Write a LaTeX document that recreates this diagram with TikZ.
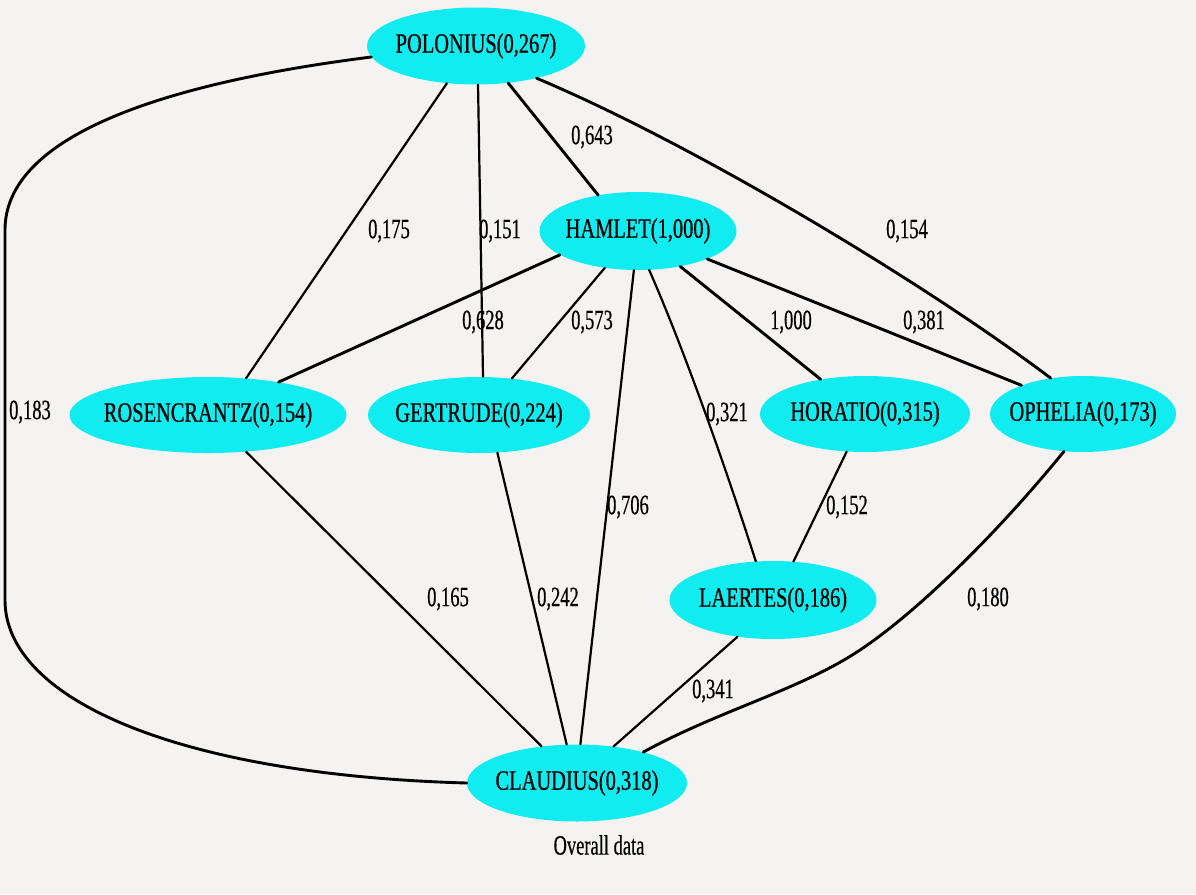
\documentclass[tikz,border=0pt]{standalone}
\usepackage{fontspec}
\setmainfont[FakeStretch=0.73,FakeBold=0.6]{Liberation Serif}
\newfontfamily\lblfont[FakeStretch=0.66,FakeBold=0.5]{Liberation Serif}
\usetikzlibrary{shapes.geometric}
\definecolor{bgcol}{RGB}{245,243,242}
\definecolor{nodecyan}{RGB}{16,236,240}
\begin{document}
\begin{tikzpicture}[x=1pt,y=-1pt,
  person/.style={ellipse, fill=nodecyan, inner sep=0pt, font=\fontsize{28}{30}\selectfont},
  weight/.style={font=\lblfont\fontsize{28}{30}\selectfont, inner sep=0pt},
  edgethick/.style={line width=2.9pt, line cap=round},
  edgethin/.style={line width=2.2pt, line cap=round}]
\fill[bgcol] (0,0) rectangle (1196,894);
\useasboundingbox (0,0) rectangle (1196,894);

% nodes
\node[person, minimum width=218, minimum height=77] (pol) at (476,46) {\makebox[0pt]{POLONIUS(0,267)}};
\node[person, minimum width=197, minimum height=78] (ham) at (638,231) {\makebox[0pt]{HAMLET(1,000)}};
\node[person, minimum width=277, minimum height=76] (ros) at (208,415) {\makebox[0pt]{ROSENCRANTZ(0,154)}};
\node[person, minimum width=222, minimum height=76] (ger) at (479,415) {\makebox[0pt]{GERTRUDE(0,224)}};
\node[person, minimum width=210, minimum height=76] (hor) at (865,414) {\makebox[0pt]{HORATIO(0,315)}};
\node[person, minimum width=186, minimum height=76] (oph) at (1083,414) {\makebox[0pt]{OPHELIA(0,173)}};
\node[person, minimum width=207, minimum height=78] (lae) at (773,600) {\makebox[0pt]{LAERTES(0,186)}};
\node[person, minimum width=220, minimum height=77] (cla) at (577,783) {\makebox[0pt]{CLAUDIUS(0,318)}};

% edges
\draw[edgethick] (pol.186) .. controls (150,85) and (5,140) .. (5,230) -- (5,600)
   .. controls (5,700) and (180,775) .. (cla.180);
\draw[edgethin] (pol.232) -- (ros.44);
\draw[edgethin] (pol.273) -- (ger.84);
\draw[edgethick] (pol.311) -- (ham.138);
\draw[edgethick] (pol.332) .. controls (691,143) and (922,281) .. (oph.132);
\draw[edgethick] (ham.197) -- (ros.25);
\draw[edgethin] (ham.228) -- (ger.48);
\draw[edgethin] (ham.264) -- (cla.85);
\draw[edgethin] (ham.286) .. controls (680,340) and (720,450) .. (lae.114);
\draw[edgethick] (ham.320) -- (hor.142);
\draw[edgethick] (ham.338) -- (oph.155);
\draw[edgethin] (hor.244) -- (lae.62);
\draw[edgethin] (ros.316) -- (cla.134);
\draw[edgethin] (ger.296) -- (cla.105);
\draw[edgethin] (lae.226) -- (cla.45);
\draw[edgethick] (oph.243) .. controls (1000,530) and (920,610) .. (860,650)
   .. controls (800,690) and (720,710) .. (cla.25);

% weights
\node[weight] (w183) at (30,412) {0,183};
\node[weight] (w175) at (389,231) {0,175};
\node[weight] (w151) at (500,231) {0,151};
\node[weight] (w643) at (592,137) {0,643};
\node[weight] (w154) at (907,231) {0,154};
\node[weight] (w628) at (483,322) {0,628};
\node[weight] (w573) at (592,322) {0,573};
\node[weight] (w1000) at (791,322) {1,000};
\node[weight] (w381) at (924,322) {0,381};
\node[weight] (w321) at (727,414) {0,321};
\node[weight] (w706) at (628,507) {0,706};
\node[weight] (w152) at (847,507) {0,152};
\node[weight] (w165) at (448,599) {0,165};
\node[weight] (w242) at (558,599) {0,242};
\node[weight] (w180) at (988,599) {0,180};
\node[weight] (w341) at (713,691) {0,341};
\node[weight] (caption) at (599,845) {Overall data};
\end{tikzpicture}
\end{document}
